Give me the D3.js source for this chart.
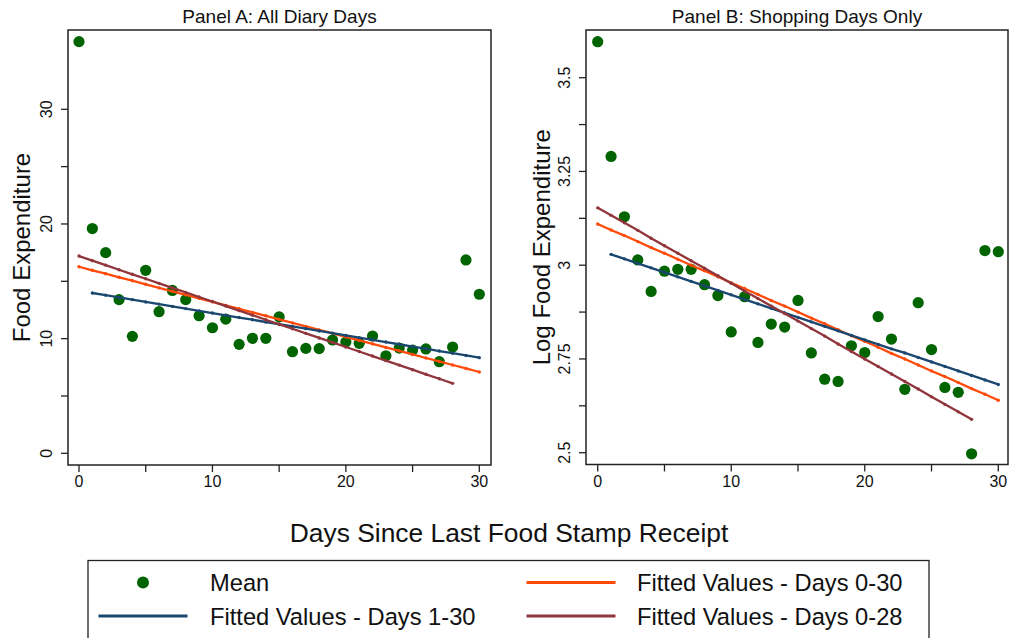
<!DOCTYPE html>
<html><head><meta charset="utf-8">
<script src="https://cdn.jsdelivr.net/npm/d3@7"></script>
<style>body{margin:0;background:#fff;}svg{display:block;font-family:"Liberation Sans",Arial,Helvetica,sans-serif;}</style>
</head><body><svg id="c" width="1010" height="638"></svg>
<script>
// ---------- DATA ----------
const days = d3.range(0, 31);
const daysFrom1 = d3.range(1, 31);
const daysTo28 = d3.range(0, 29);

const meanA = [35.9,19.6,17.5,13.4,10.2,15.96,12.35,14.2,13.4,12.0,10.95,11.7,9.5,10.03,10.03,11.9,8.86,9.15,9.13,9.88,9.7,9.59,10.23,8.5,9.18,9.0,9.1,7.99,9.27,16.86,13.87];
const fitA_1_30 = [13.98,13.79,13.59,13.40,13.20,13.01,12.81,12.62,12.42,12.23,12.03,11.84,11.65,11.45,11.26,11.06,10.87,10.67,10.48,10.28,10.09,9.90,9.70,9.51,9.31,9.12,8.92,8.73,8.53,8.34];
const fitA_0_30 = [16.27,15.96,15.66,15.35,15.05,14.74,14.43,14.13,13.82,13.52,13.21,12.90,12.60,12.29,11.99,11.68,11.37,11.07,10.76,10.46,10.15,9.84,9.54,9.23,8.93,8.62,8.31,8.01,7.70,7.40,7.09];
const fitA_0_28 = [17.20,16.80,16.41,16.01,15.61,15.22,14.82,14.43,14.03,13.63,13.24,12.84,12.44,12.05,11.65,11.25,10.86,10.46,10.06,9.67,9.27,8.88,8.48,8.08,7.69,7.29,6.89,6.50,6.10];

const meanB = [3.596,3.290,3.129,3.014,2.930,2.984,2.989,2.989,2.948,2.919,2.822,2.916,2.794,2.843,2.835,2.906,2.766,2.696,2.690,2.785,2.767,2.863,2.803,2.669,2.900,2.775,2.674,2.661,2.497,3.039,3.036];
const fitB_1_30 = [3.029,3.017,3.005,2.993,2.981,2.969,2.957,2.945,2.933,2.921,2.909,2.897,2.885,2.873,2.861,2.849,2.837,2.825,2.813,2.801,2.789,2.777,2.766,2.754,2.742,2.730,2.718,2.706,2.694,2.682];
const fitB_0_30 = [3.110,3.094,3.079,3.063,3.047,3.032,3.016,3.000,2.985,2.969,2.953,2.938,2.922,2.906,2.891,2.875,2.859,2.844,2.828,2.812,2.797,2.781,2.765,2.750,2.734,2.718,2.703,2.687,2.671,2.656,2.640];
const fitB_0_28 = [3.153,3.133,3.113,3.093,3.072,3.052,3.032,3.012,2.992,2.972,2.952,2.931,2.911,2.891,2.871,2.851,2.831,2.811,2.790,2.770,2.750,2.730,2.710,2.690,2.670,2.649,2.629,2.609,2.589];

const xTicks = [0,10,20,30];
const xMinor = [5,15,25];
const yTicksA = [0,10,20,30];
const yMinorA = [5,15,25];
const yTicksB = [2.5,2.75,3,3.25,3.5];
const yMinorB = [2.625,2.875,3.125,3.375];

const titles = ["Panel A: All Diary Days","Panel B: Shopping Days Only"];
const yTitles = ["Food Expenditure","Log Food Expenditure"];
const xTitle = "Days Since Last Food Stamp Receipt";
const legendLabels = ["Mean","Fitted Values - Days 0-30","Fitted Values - Days 1-30","Fitted Values - Days 0-28"];

const colors = {mean:"#006400", blue:"#1a476f", orange:"#ff4a0a", maroon:"#90353b"};

// ---------- DRAW ----------
const svg = d3.select("#c");
svg.append("rect").attr("width",1010).attr("height",638).attr("fill","#fff");

const panels = [
  {box:[68,30,491,465], x:d3.scaleLinear().domain([0,30]).range([79,479.3]),
   y:d3.scaleLinear().domain([0,30]).range([453.3,109.3]),
   yt:yTicksA, ym:yMinorA, fmt:d=>d, mean:meanA, f130:fitA_1_30, f030:fitA_0_30, f028:fitA_0_28,
   ylabX:46, ytitleX:22, title:titles[0], ytitle:yTitles[0]},
  {box:[586,30,1008,464.5], x:d3.scaleLinear().domain([0,30]).range([597.7,998.3]),
   y:d3.scaleLinear().domain([2.5,3.5]).range([452.7,77.7]),
   yt:yTicksB, ym:yMinorB, fmt:d=>String(d), mean:meanB, f130:fitB_1_30, f030:fitB_0_30, f028:fitB_0_28,
   ylabX:564, ytitleX:542, title:titles[1], ytitle:yTitles[1]}
];

panels.forEach(p=>{
  const [x0,y0,x1,y1] = p.box;
  const g = svg.append("g");
  // title
  g.append("text").attr("x",(x0+x1)/2).attr("y",22.5).attr("text-anchor","middle")
    .attr("font-size",19).attr("fill","#111").text(p.title);
  // y title
  g.append("text").attr("transform",`translate(${p.ytitleX},${(y0+y1)/2}) rotate(-90)`)
    .attr("text-anchor","middle").attr("dy","0.35em").attr("font-size",24).attr("fill","#111").text(p.ytitle);

  // x axis ticks
  const xt = xTicks.concat(xMinor);
  g.selectAll(".xt").data(xt).join("line")
    .attr("x1",d=>p.x(d)).attr("x2",d=>p.x(d)).attr("y1",y1).attr("y2",y1+7)
    .attr("stroke","#222").attr("stroke-width",1.3);
  g.selectAll(".xl").data(xTicks).join("text")
    .attr("x",d=>p.x(d)).attr("y",y1+22).attr("text-anchor","middle").attr("font-size",16).attr("fill","#111")
    .text(d=>d);
  // y axis ticks
  const yt = p.yt.concat(p.ym);
  g.selectAll(".yt").data(yt).join("line")
    .attr("y1",d=>p.y(d)).attr("y2",d=>p.y(d)).attr("x1",x0).attr("x2",x0-7)
    .attr("stroke","#222").attr("stroke-width",1.3);
  g.selectAll(".yl").data(p.yt).join("text")
    .attr("transform",d=>`translate(${p.ylabX},${p.y(d)}) rotate(-90)`)
    .attr("text-anchor","middle").attr("dy","0.35em").attr("font-size",16).attr("fill","#111")
    .text(p.fmt);

  // points
  g.selectAll(".pt").data(p.mean).join("circle")
    .attr("cx",(d,i)=>p.x(days[i])).attr("cy",d=>p.y(d)).attr("r",5.6).attr("fill",colors.mean);

  // fitted lines
  const series = [
    {xs:days, ys:p.f030, c:colors.orange},
    {xs:daysFrom1, ys:p.f130, c:colors.blue},
    {xs:daysTo28, ys:p.f028, c:colors.maroon}
  ];
  series.forEach(s=>{
    const pts = s.ys.map((v,i)=>[p.x(s.xs[i]),p.y(v)]);
    g.append("path").attr("d",d3.line()(pts)).attr("fill","none").attr("stroke",s.c).attr("stroke-width",2.3);
    g.selectAll(null).data(pts).join("circle").attr("cx",d=>d[0]).attr("cy",d=>d[1]).attr("r",1.7).attr("fill",s.c);
  });

  // frame
  g.append("rect").attr("x",x0).attr("y",y0).attr("width",x1-x0).attr("height",y1-y0)
    .attr("fill","none").attr("stroke","#222").attr("stroke-width",1.5);
});

// x title
svg.append("text").attr("x",509).attr("y",541.5).attr("text-anchor","middle").attr("font-size",26.4).attr("fill","#111").text(xTitle);

// legend
const lg = svg.append("g");
lg.append("rect").attr("x",88).attr("y",560.5).attr("width",841).attr("height",90)
  .attr("fill","#fff").attr("stroke","#222").attr("stroke-width",1.3);
const legendItems = [
  {label:legendLabels[0], type:"dot", c:colors.mean, kx:143, tx:210, y:582.5},
  {label:legendLabels[1], type:"line", c:colors.orange, kx:571, tx:637, y:582.5},
  {label:legendLabels[2], type:"line", c:colors.blue, kx:143, tx:210, y:616},
  {label:legendLabels[3], type:"line", c:colors.maroon, kx:571, tx:637, y:616}
];
legendItems.forEach(it=>{
  if(it.type==="dot"){
    lg.append("circle").attr("cx",it.kx).attr("cy",it.y).attr("r",6).attr("fill",it.c);
  } else {
    lg.append("line").attr("x1",it.kx-44.5).attr("x2",it.kx+44.5).attr("y1",it.y).attr("y2",it.y)
      .attr("stroke",it.c).attr("stroke-width",3);
  }
  lg.append("text").attr("x",it.tx).attr("y",it.y).attr("dy","0.36em").attr("font-size",23.7).attr("fill","#111").text(it.label);
});
</script></body></html>
